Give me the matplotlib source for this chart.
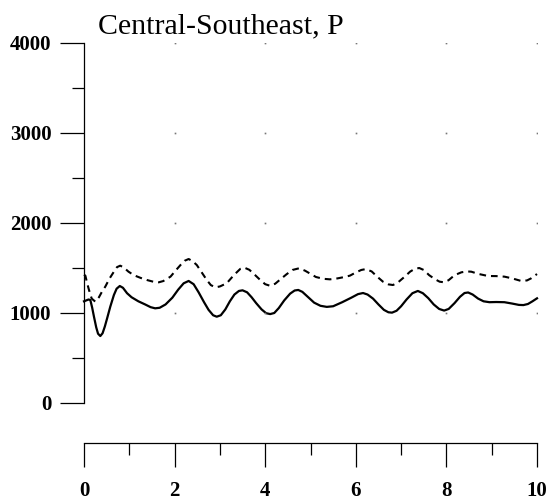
import numpy as np
import matplotlib
matplotlib.use("Agg")
import matplotlib.pyplot as plt

# solid curve
t_solid = [0.00, 0.05, 0.10, 0.14, 0.18, 0.22, 0.27, 0.31, 0.36, 0.41, 0.46, 0.51,
           0.58, 0.66, 0.72, 0.79, 0.86, 0.95, 1.05, 1.20, 1.35, 1.47, 1.57, 1.67,
           1.80, 1.95, 2.08, 2.20, 2.31, 2.42, 2.53, 2.65, 2.75, 2.85, 2.93, 3.02,
           3.12, 3.22, 3.32, 3.42, 3.50, 3.60, 3.70, 3.80, 3.92, 4.02, 4.11, 4.20,
           4.30, 4.42, 4.55, 4.65, 4.73, 4.82, 4.95, 5.08, 5.22, 5.36, 5.50, 5.70,
           5.90, 6.05, 6.16, 6.26, 6.38, 6.50, 6.62, 6.72, 6.80, 6.90, 7.00, 7.12,
           7.25, 7.37, 7.48, 7.60, 7.72, 7.84, 7.95, 8.05, 8.18, 8.30, 8.40, 8.48,
           8.58, 8.70, 8.82, 8.95, 9.10, 9.28, 9.45, 9.60, 9.70, 9.80, 9.90, 10.0]
p_solid = [1130, 1140, 1150, 1144, 1060, 959, 840, 770, 744, 775, 850, 940,
           1070, 1200, 1270, 1300, 1280, 1220, 1175, 1130, 1095, 1065, 1052, 1058,
           1095, 1170, 1260, 1330, 1356, 1320, 1230, 1120, 1035, 975, 959, 975,
           1040, 1130, 1205, 1245, 1252, 1230, 1175, 1110, 1040, 998, 988, 1000,
           1055, 1140, 1215, 1250, 1256, 1235, 1175, 1115, 1080, 1068, 1075, 1120,
           1170, 1210, 1222, 1205, 1160, 1095, 1035, 1008, 1004, 1025, 1075, 1150,
           1220, 1245, 1220, 1165, 1095, 1045, 1027, 1045, 1110, 1180, 1222, 1228,
           1205, 1160, 1130, 1120, 1122, 1120, 1105, 1090, 1088, 1100, 1130, 1163]

# dashed curve
t_dash = [0.00, 0.03, 0.07, 0.11, 0.17, 0.25, 0.33, 0.40, 0.47, 0.56, 0.66, 0.73,
          0.80, 0.88, 0.98, 1.10, 1.25, 1.40, 1.55, 1.65, 1.75, 1.91, 2.02, 2.13,
          2.22, 2.31, 2.40, 2.49, 2.60, 2.71, 2.80, 2.90, 3.00, 3.15, 3.31, 3.45,
          3.54, 3.65, 3.78, 3.89, 4.00, 4.11, 4.22, 4.35, 4.47, 4.60, 4.75, 4.88,
          5.00, 5.12, 5.28, 5.43, 5.60, 5.75, 5.87, 6.00, 6.12, 6.22, 6.35, 6.48,
          6.60, 6.72, 6.82, 6.92, 7.08, 7.20, 7.30, 7.40, 7.50, 7.62, 7.75, 7.85,
          7.95, 8.05, 8.18, 8.33, 8.45, 8.55, 8.70, 8.92, 9.10, 9.28, 9.45, 9.65,
          9.78, 9.87, 10.0]
p_dash = [1425, 1415, 1330, 1256, 1160, 1126, 1175, 1240, 1293, 1380, 1459, 1510,
          1526, 1505, 1460, 1420, 1390, 1365, 1345, 1341, 1355, 1404, 1470, 1533,
          1580, 1600, 1575, 1533, 1450, 1367, 1310, 1285, 1295, 1330, 1422, 1490,
          1504, 1480, 1420, 1367, 1320, 1302, 1325, 1380, 1430, 1478, 1497, 1470,
          1435, 1400, 1380, 1374, 1385, 1400, 1415, 1450, 1478, 1488, 1462, 1400,
          1348, 1318, 1311, 1335, 1404, 1460, 1490, 1500, 1478, 1420, 1375, 1348,
          1341, 1365, 1420, 1452, 1462, 1459, 1435, 1411, 1410, 1404, 1385, 1356,
          1362, 1385, 1433]

x_major = [0, 2, 4, 6, 8, 10]
x_minor = [1, 3, 5, 7, 9]
y_major = [0, 1000, 2000, 3000, 4000]
y_minor = [500, 1500, 2500, 3500]
title = "Central-Southeast, P"

plt.rcParams["font.family"] = ["Liberation Serif", "DejaVu Serif"]

fig = plt.figure(figsize=(5.49, 5.03), dpi=100)
ax = fig.add_axes([84 / 549, 1 - 403 / 503, (537 - 84) / 549, 360 / 503])

ax.plot(t_solid, p_solid, color="black", lw=1.6, clip_on=False)
ax.plot(t_dash, p_dash, color="black", lw=1.5, linestyle=(0, (3.2, 2.4)), clip_on=False)

# faint dot grid
gx, gy = np.meshgrid(x_major[1:], y_major[1:])
ax.plot(gx.ravel(), gy.ravel(), linestyle="none", marker="s", ms=1.2,
        color="#777777", mec="none")

ax.set_xlim(0, 10)
ax.set_ylim(0, 4000)

for s in ("top", "right"):
    ax.spines[s].set_visible(False)
ax.spines["left"].set_linewidth(0.9)
ax.spines["bottom"].set_linewidth(0.9)
ax.spines["bottom"].set_position(("outward", 28.8))

ax.set_xticks(x_major)
ax.set_xticks(x_minor, minor=True)
ax.set_yticks(y_major)
ax.set_yticks(y_minor, minor=True)
ax.set_xticklabels([str(v) for v in x_major])
ax.set_yticklabels([str(v) for v in y_major])

ax.tick_params(axis="x", which="major", direction="out", length=17, width=0.9,
               pad=10, labelsize=15)
ax.tick_params(axis="x", which="minor", direction="out", length=8.5, width=0.9)
ax.tick_params(axis="y", which="major", direction="out", length=17, width=0.9,
               pad=6.5, labelsize=15)
ax.tick_params(axis="y", which="minor", direction="out", length=9, width=0.9)
for lab in ax.get_xticklabels() + ax.get_yticklabels():
    lab.set_fontweight("bold")

fig.text(98 / 549, 1 - 33 / 503, title, fontsize=21.5, ha="left", va="baseline")

fig.savefig("out.png", dpi=100)
